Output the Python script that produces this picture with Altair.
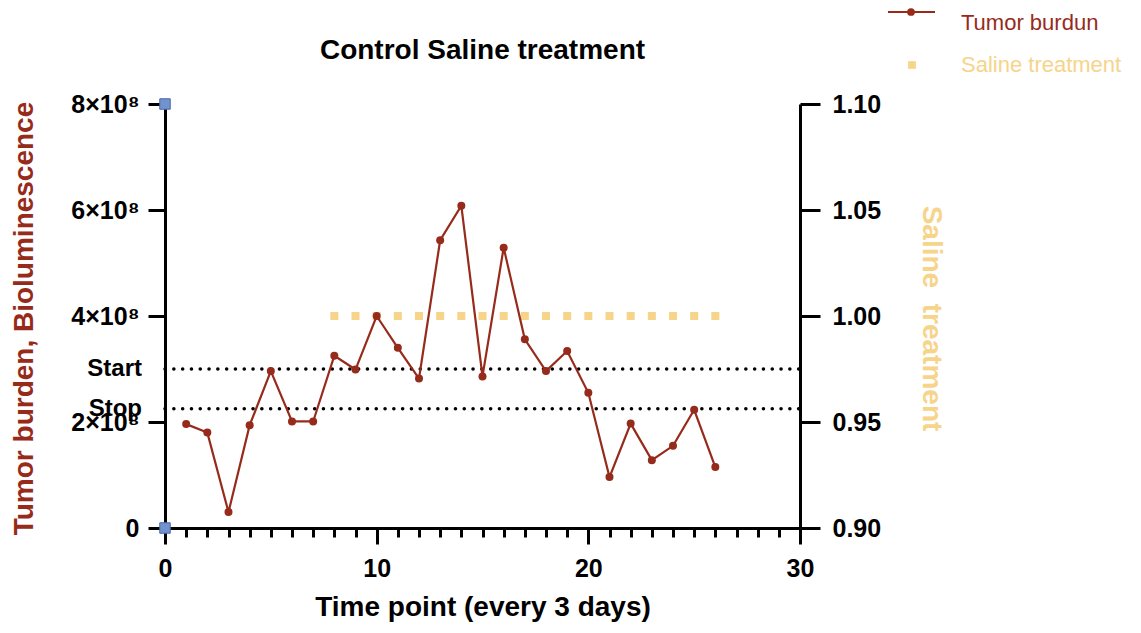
import altair as alt
import pandas as pd

# ---------------- data ----------------
time_points = [1, 2, 3, 4, 5, 6, 7, 8, 9, 10, 11, 12, 13,
               14, 15, 16, 17, 18, 19, 20, 21, 22, 23, 24, 25, 26]
tumor_burden = [1.96e8, 1.80e8, 0.30e8, 1.94e8, 2.96e8, 2.01e8, 2.01e8, 3.25e8, 2.99e8,
                4.00e8, 3.40e8, 2.82e8, 5.43e8, 6.08e8, 2.86e8, 5.29e8, 3.56e8, 2.96e8,
                3.34e8, 2.55e8, 0.96e8, 1.97e8, 1.28e8, 1.55e8, 2.23e8, 1.15e8]

saline_time = [8, 9, 10, 11, 12, 13, 14, 15, 16, 17, 18, 19, 20, 21, 22, 23, 24, 25, 26]
saline_value = [1.00, 1.00, 1.00, 1.00, 1.00, 1.00, 1.00, 1.00, 1.00, 1.00,
                1.00, 1.00, 1.00, 1.00, 1.00, 1.00, 1.00, 1.00, 1.00]

ref_labels = ["Start", "Stop"]
ref_values = [3.0e8, 2.25e8]
ref_x_start = [0, 0]
ref_x_end = [30, 30]

corner_x = [0, 0]
corner_y = [0, 8e8]

x_tick_values = list(range(0, 31))
y_left_ticks = [0, 2e8, 4e8, 6e8, 8e8]
y_right_ticks = [0.90, 0.95, 1.00, 1.05, 1.10]

legend_labels = ["Tumor burdun", "Saline treatment"]

title_text = "Control Saline treatment"
x_title = "Time point (every 3 days)"
y_left_title = "Tumor burden, Bioluminescence"
y_right_title = "Saline\u00a0 treatment"

# ---------------- styling ----------------
FONT = "Liberation Sans"
RED = "#962b1c"
YELLOW = "#f6d48a"
BLUE = "#7393cf"
W, H = 635, 424

tumor_df = pd.DataFrame({"x": time_points, "y": tumor_burden})
saline_df = pd.DataFrame({"x": saline_time, "y": saline_value})
ref_df = pd.DataFrame({"x": ref_x_start, "x1": ref_x_end, "y": ref_values, "label": ref_labels})
corner_df = pd.DataFrame({"x": corner_x, "y": corner_y})
title_df = pd.DataFrame({"label": [title_text]})

x_scale = alt.Scale(domain=[0, 30], nice=False, zero=False)
yl_scale = alt.Scale(domain=[0, 8e8], nice=False)
yr_scale = alt.Scale(domain=[0.9, 1.1], nice=False, zero=False)

common_axis = dict(
    domainColor="black", domainWidth=3, tickColor="black", tickWidth=3,
    labelFont=FONT, labelFontSize=25, labelFontWeight="bold", labelColor="black",
    titleFont=FONT, titleFontSize=28, titleFontWeight="bold", grid=False,
    labelOverlap=False, labelFlush=False,
)

x_axis = alt.Axis(
    values=x_tick_values,
    labelExpr="datum.value % 10 === 0 ? datum.label : ''",
    tickSize={"condition": {"test": "datum.value % 10 === 0", "value": 16}, "value": 9},
    labelPadding=12,
    title=x_title, titleColor="black", titleX=W / 2, titleY=87,
    titleAlign="center", titleBaseline="alphabetic",
    **common_axis,
)

yl_axis = alt.Axis(
    orient="left",
    values=y_left_ticks,
    labelExpr="datum.value == 0 ? '0' : format(datum.value / 1e8, 'd') + '×10⁸'",
    tickSize=17, labelPadding=9,
    title=y_left_title, titleColor=RED, titleX=-141, titleY=214,
    titleAngle=270, titleAlign="center", titleBaseline="middle",
    **common_axis,
)

yr_axis = alt.Axis(
    orient="right",
    values=y_right_ticks,
    labelExpr="format(datum.value, '.2f')",
    tickSize=20, labelPadding=12,
    title=y_right_title, titleColor=YELLOW, titleX=130, titleY=214,
    titleAngle=90, titleAlign="center", titleBaseline="middle",
    **common_axis,
)

X = alt.X("x:Q", scale=x_scale, axis=x_axis)
YL = alt.Y("y:Q", scale=yl_scale, axis=yl_axis)
YR = alt.Y("y:Q", scale=yr_scale, axis=yr_axis)

# right-axis series (drawn first, underneath)
saline = alt.Chart(saline_df).mark_square(size=64, color=YELLOW, opacity=1).encode(x=X, y=YR)

# left-axis layers
rules = alt.Chart(ref_df).mark_rule(
    color="black", strokeWidth=3.5, strokeDash=[0.1, 8.7], strokeCap="round"
).encode(x=X, x2="x1:Q", y=YL)

ref_text = alt.Chart(ref_df).mark_text(
    align="right", baseline="middle", dx=-23, font=FONT, fontSize=24,
    fontWeight="bold", color="black"
).encode(x=X, y=YL, text="label:N")

line = alt.Chart(tumor_df).mark_line(color=RED, strokeWidth=2.2).encode(x=X, y=YL)
pts = alt.Chart(tumor_df).mark_circle(size=64, color=RED, opacity=1).encode(x=X, y=YL)

corners = alt.Chart(corner_df).mark_square(
    size=110, fill=BLUE, stroke="#4a69a8", strokeWidth=1, opacity=1
).encode(x=X, y=YL)

left = alt.layer(rules, line, pts, ref_text, corners)

# chart title (placed above the plot area)
title_mark = alt.Chart(title_df).mark_text(
    align="center", baseline="alphabetic", font=FONT, fontSize=28,
    fontWeight="bold", color="black"
).encode(x=alt.value(W / 2), y=alt.value(-45), text="label:N")

# custom legend (top right, outside the plot)
leg1 = pd.DataFrame({"label": [legend_labels[0]]})
leg2 = pd.DataFrame({"label": [legend_labels[1]]})
leg_line = alt.Chart(leg1).mark_rule(color=RED, strokeWidth=2).encode(
    x=alt.value(723), x2=alt.value(770), y=alt.value(-92))
leg_dot = alt.Chart(leg1).mark_circle(size=60, color=RED, opacity=1).encode(
    x=alt.value(746), y=alt.value(-92))
leg_txt1 = alt.Chart(leg1).mark_text(
    align="left", baseline="alphabetic", font=FONT, fontSize=22, color=RED
).encode(x=alt.value(796), y=alt.value(-74), text="label:N")
leg_sq = alt.Chart(leg2).mark_square(size=60, color=YELLOW, opacity=1).encode(
    x=alt.value(747), y=alt.value(-39))
leg_txt2 = alt.Chart(leg2).mark_text(
    align="left", baseline="alphabetic", font=FONT, fontSize=22, color=YELLOW
).encode(x=alt.value(796), y=alt.value(-32), text="label:N")

chart = alt.layer(
    saline, left, title_mark, leg_line, leg_dot, leg_txt1, leg_sq, leg_txt2
).resolve_scale(y="independent").properties(
    width=W, height=H,
    autosize=alt.AutoSizeParams(type="none"),
    padding={"left": 165, "top": 104, "right": 341, "bottom": 105},
    background="white",
).configure_view(stroke=None)

chart.save("out.html", embed_options={"renderer": "svg", "actions": False})
